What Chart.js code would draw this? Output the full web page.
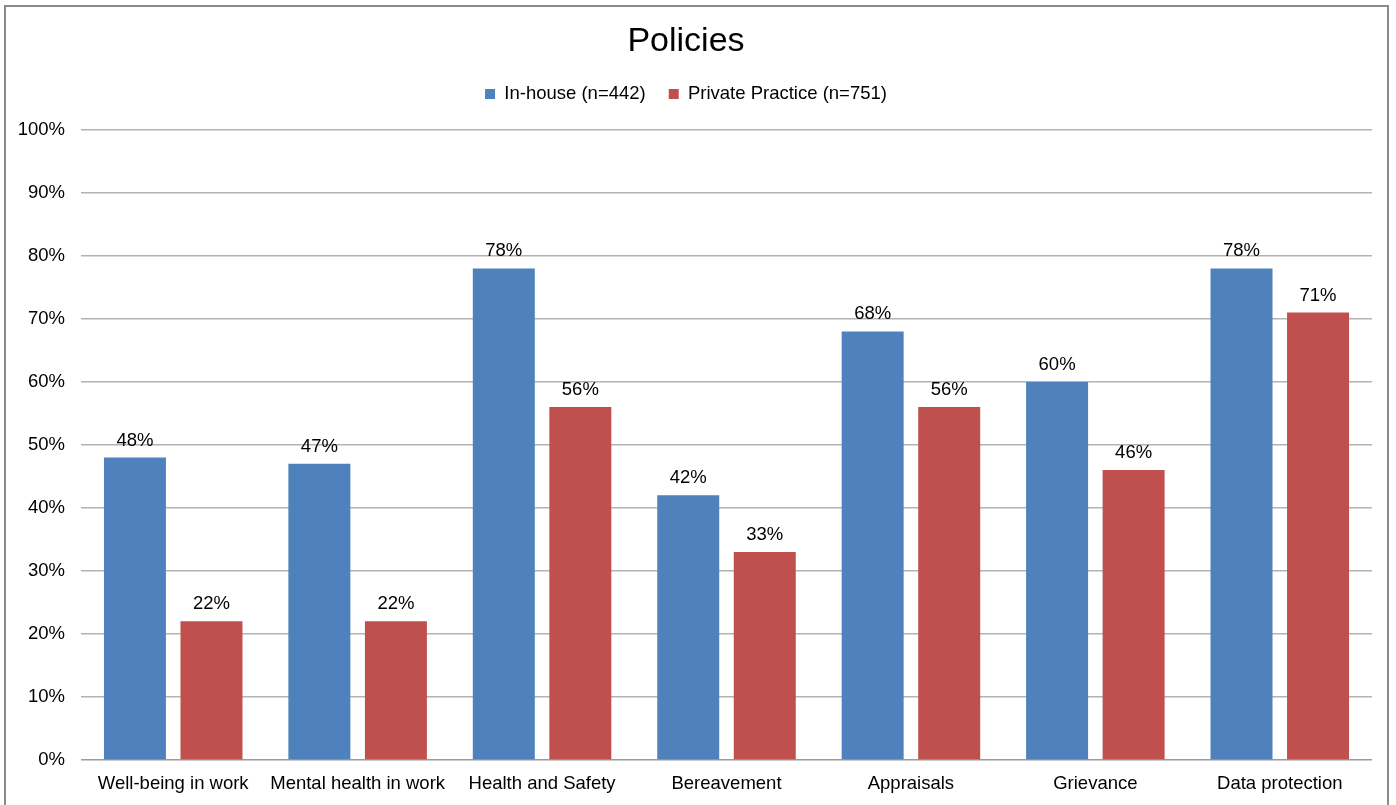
<!DOCTYPE html>
<html>
<head>
<meta charset="utf-8">
<title>Policies</title>
<script src="https://cdn.jsdelivr.net/npm/chart.js@4.4.1/dist/chart.umd.min.js"></script>
<style>
  html, body { margin: 0; padding: 0; background: #ffffff; }
  #wrap { position: relative; width: 1396px; height: 805px; }
</style>
</head>
<body>
<div id="wrap"><canvas id="chart" width="1396" height="805"></canvas></div>
<script>
// Policy categories along the x axis
const categories = [
  'Well-being in work',
  'Mental health in work',
  'Health and Safety',
  'Bereavement',
  'Appraisals',
  'Grievance',
  'Data protection'
];

// Share of respondents with each policy (%)
const inHouse = [48, 47, 78, 42, 68, 60, 78];
const privatePractice = [22, 22, 56, 33, 56, 46, 71];

// Series names
const seriesNames = ['In-house (n=442)', 'Private Practice (n=751)'];

// Y axis tick values (%)
const yTicks = [0, 10, 20, 30, 40, 50, 60, 70, 80, 90, 100];

const FONT = "'Liberation Sans', Arial, sans-serif";
const TEXT = '#000000';

// Outer frame around the whole chart
const framePlugin = {
  id: 'frame',
  afterDraw(chart) {
    const ctx = chart.ctx;
    ctx.save();
    ctx.strokeStyle = '#8a8a8a';
    ctx.lineWidth = 2;
    ctx.strokeRect(5, 6, 1383, 860);
    ctx.restore();
  }
};

// Extra room between the legend and the plot area
const legendGapPlugin = {
  id: 'legendGap',
  afterInit(chart) {
    const legend = chart.legend;
    if (!legend || legend._gapWrapped) return;
    const fit = legend.fit;
    legend.fit = function () {
      fit.call(this);
      this.height += 16.5;
    };
    legend._gapWrapped = true;
  }
};

// Value labels above each bar
const valueLabelPlugin = {
  id: 'valueLabels',
  afterDatasetsDraw(chart) {
    const ctx = chart.ctx;
    ctx.save();
    ctx.font = '18.5px ' + FONT;
    ctx.fillStyle = TEXT;
    ctx.textAlign = 'center';
    ctx.textBaseline = 'alphabetic';
    chart.data.datasets.forEach((ds, i) => {
      const meta = chart.getDatasetMeta(i);
      meta.data.forEach((bar, j) => {
        ctx.fillText(ds.data[j] + '%', bar.x, bar.y - 12);
      });
    });
    ctx.restore();
  }
};

new Chart(document.getElementById('chart'), {
  type: 'bar',
  data: {
    labels: categories,
    datasets: [
      {
        label: seriesNames[0],
        data: inHouse,
        backgroundColor: '#4F81BD',
        borderWidth: 0
      },
      {
        label: seriesNames[1],
        data: privatePractice,
        backgroundColor: '#C0504D',
        borderWidth: 0
      }
    ]
  },
  options: {
    responsive: false,
    animation: false,
    devicePixelRatio: 1,
    categoryPercentage: 0.83,
    barPercentage: 0.81,
    layout: { padding: { left: 0, right: 24, top: 0, bottom: 10 } },
    plugins: {
      title: {
        display: true,
        text: 'Policies',
        color: TEXT,
        font: { family: FONT, size: 34, weight: 'normal' },
        padding: { top: 21, bottom: 0 }
      },
      legend: {
        display: true,
        position: 'top',
        labels: {
          color: TEXT,
          font: { family: FONT, size: 18.5 },
          boxWidth: 10,
          boxHeight: 10,
          padding: 23
        }
      },
      tooltip: { enabled: false }
    },
    scales: {
      x: {
        afterFit(scale) { scale.height = 35; },
        grid: { display: false, drawTicks: false },
        border: { display: false },
        ticks: {
          color: TEXT,
          font: { family: FONT, size: 18.5 },
          padding: 13,
          maxRotation: 0,
          autoSkip: false
        }
      },
      y: {
        min: 0,
        max: 100,
        afterFit(scale) { scale.width = 81; },
        afterBuildTicks(scale) {
          scale.ticks = yTicks.map(v => ({ value: v }));
        },
        grid: {
          drawTicks: false,
          color: ctx => (ctx.tick && ctx.tick.value === 0 ? '#9c9c9c' : '#b3b3b3'),
          lineWidth: 1.5
        },
        border: { display: false },
        ticks: {
          color: TEXT,
          font: { family: FONT, size: 18.5 },
          padding: 16,
          callback: v => v + '%'
        }
      }
    }
  },
  plugins: [framePlugin, legendGapPlugin, valueLabelPlugin]
});
</script>
</body>
</html>
